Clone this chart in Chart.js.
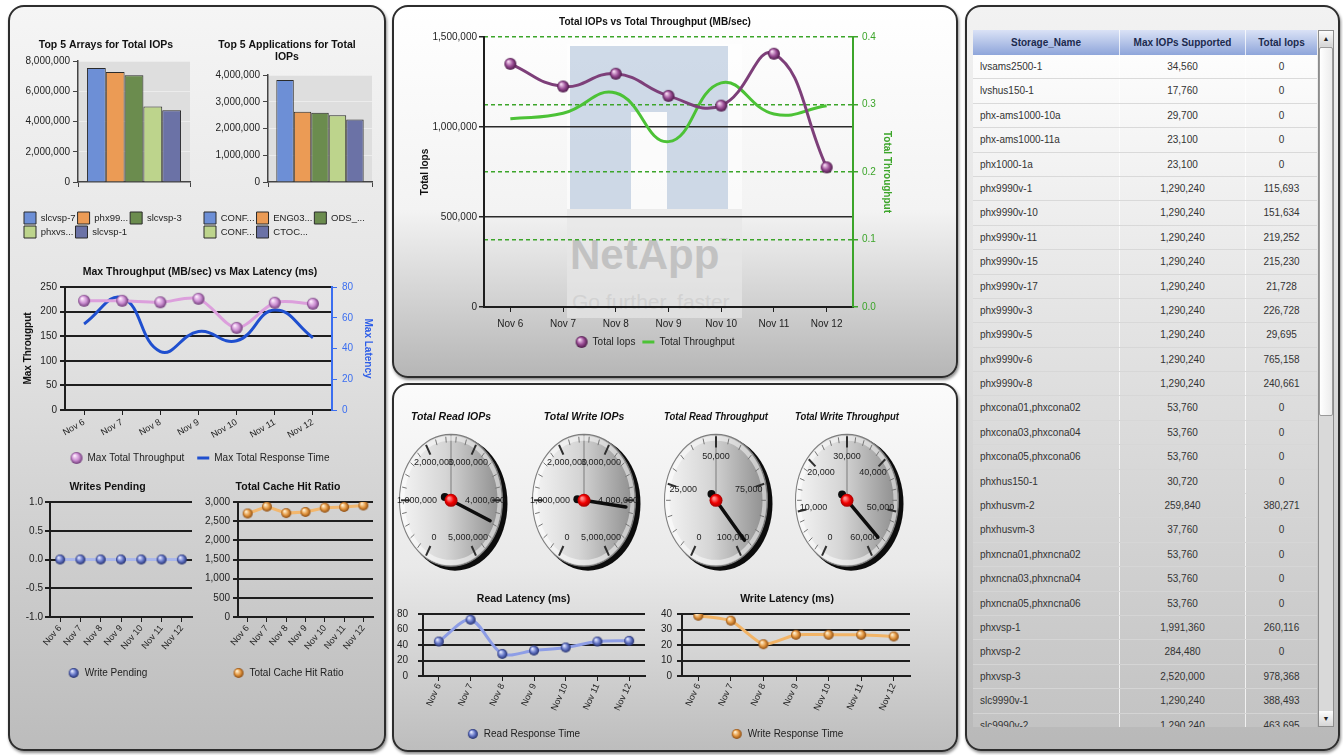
<!DOCTYPE html>
<html lang="en">
<head>
<meta charset="utf-8">
<title>Storage performance dashboard</title>
<script src="https://cdn.jsdelivr.net/npm/chart.js@4.4.1/dist/chart.umd.min.js"></script>
<style>
  body { margin: 0; width: 1343px; height: 755px; overflow: hidden; position: relative; background: #fff;
         font-family: 'Liberation Sans', Arial, sans-serif; }
  .panel { position: absolute; box-sizing: border-box; border: 2px solid #2d2d2d; border-radius: 16px;
           box-shadow: 1px 2px 3px rgba(0,0,0,.45); }
  canvas { position: absolute; z-index: 3; }
  .wm { position: absolute; z-index: 2; white-space: nowrap; }
  #grid { position: absolute; left: 973px; top: 30px; width: 344px; height: 697px; overflow: hidden; z-index: 3;
          font-size: 10px; color: #333; }
  #grid .hdr { display: flex; height: 25px; line-height: 25px; background: linear-gradient(#dae2f6, #8ea5da);
               font-weight: bold; color: #1c2a4e; text-align: center; }
  #rows { background: linear-gradient(#fdfdfd, #e6e6e6 35%, #c2c2c2); }
  .row { display: flex; height: 24.4px; line-height: 23.4px; box-sizing: border-box;
         border-bottom: 1px solid rgba(214,214,214,.9); }
  .c0 { width: 147px; padding-left: 7px; box-sizing: border-box; white-space: nowrap; overflow: hidden; }
  .c1 { width: 125px; text-align: center; }
  .c2 { flex: 1; text-align: center; }
  .c0, .c1 { border-right: 1px solid rgba(255,255,255,.75); }
  .hdr .c0 { padding-left: 0; text-align: center; }
  #sb { position: absolute; left: 1318px; top: 30px; width: 16px; height: 697px; box-sizing: border-box;
        border: 1px solid #8c8c8c; background: #d9d9d9; z-index: 3; }
  .sbBtn { position: absolute; left: 0; width: 14px; height: 15px; background: linear-gradient(#fdfdfd, #d6d6d6);
           font-size: 7px; line-height: 15px; text-align: center; color: #222; }
  #thumb { position: absolute; left: 0; top: 16px; width: 14px; height: 369px; box-sizing: border-box;
           border: 1px solid #9a9a9a; border-radius: 2px; background: linear-gradient(90deg, #fff, #ececec); }
</style>
</head>
<body>
<div class="panel" style="left:8px;top:5px;width:378px;height:746px;background:linear-gradient(#f5f5f5,#e2e2e2 45%,#bcbcbc)"></div>
<div class="panel" style="left:392px;top:5px;width:566px;height:373px;background:linear-gradient(#ffffff,#f3f3f3 55%,#b6b6b6)"></div>
<div class="panel" style="left:392px;top:383px;width:566px;height:369px;background:linear-gradient(#fbfbfb,#e9e9e9 50%,#bdbdbd)"></div>
<div class="panel" style="left:965px;top:5px;width:375px;height:746px;background:linear-gradient(#f2f2f2,#dedede 45%,#b8b8b8)"></div>

<!-- NetApp watermark behind the main chart -->
<div class="wm" style="left:567px;top:44px;width:175px;height:274px;background:rgba(255,255,255,.55)"></div>
<div class="wm" style="left:570px;top:46px;width:158px;height:66px;background:rgba(160,182,210,.5)"></div>
<div class="wm" style="left:570px;top:112px;width:61px;height:97px;background:rgba(160,182,210,.5)"></div>
<div class="wm" style="left:667px;top:112px;width:61px;height:97px;background:rgba(160,182,210,.5)"></div>
<div class="wm" style="left:567px;top:209px;width:175px;height:109px;background:rgba(205,205,205,.35)"></div>
<div class="wm" style="left:570px;top:234px;font:bold 42px/42px 'Liberation Sans',Arial,sans-serif;color:#c2c2c2">NetApp<span style="font-size:9px;vertical-align:top;line-height:14px">™</span></div>
<div class="wm" style="left:572px;top:291px;font:21px/21px 'Liberation Sans',Arial,sans-serif;color:#d2d2d2">Go further, faster</div>

<div id="grid"><div class="hdr"><div class="c0">Storage_Name</div><div class="c1">Max IOPs Supported</div><div class="c2">Total Iops</div></div><div id="rows"></div></div>
<div id="sb"><div class="sbBtn" style="top:0">▲</div><div id="thumb"></div><div class="sbBtn" style="bottom:0">▼</div></div>

<script>
// ── data ────────────────────────────────────────────────────────────────────
const days = ['Nov 6', 'Nov 7', 'Nov 8', 'Nov 9', 'Nov 10', 'Nov 11', 'Nov 12'];

const arrayNames = ['slcvsp-7', 'phx99...', 'slcvsp-3', 'phxvs...', 'slcvsp-1'];
const arrayIops = [7540000, 7270000, 7050000, 5000000, 4740000];
const appNames = ['CONF...', 'ENG03...', 'ODS_...', 'CONF...', 'CTOC...'];
const appIops = [3810000, 2630000, 2590000, 2500000, 2340000];

const maxThroughput = [222, 222, 219, 226, 167, 218, 216];
const maxLatency = [56, 73, 38, 51, 45, 65, 47];
const writesPending = [0, 0, 0, 0, 0, 0, 0];
const cacheHitRatio = [2700, 2880, 2710, 2740, 2850, 2870, 2910];

const totalIops = [1351000, 1225000, 1296000, 1173000, 1119000, 1407000, 776000];
const totalThroughput = [0.279, 0.287, 0.317, 0.245, 0.332, 0.286, 0.298];

const gaugeTitles = ['Total Read IOPs', 'Total Write IOPs', 'Total Read Throughput', 'Total Write Throughput'];
const gaugeMax = [5000000, 5000000, 100000, 60000];
const gaugeStep = [1000000, 1000000, 25000, 10000];
const gaugeValues = [4370000, 4120000, 95900, 56600];

const readLatency = [44.5, 72.6, 28.5, 32.9, 36.8, 44.5, 45.4];
const writeLatency = [38.9, 35.7, 20.5, 26.6, 26.6, 26.6, 25.5];

const storageNames = ['lvsams2500-1', 'lvshus150-1', 'phx-ams1000-10a', 'phx-ams1000-11a', 'phx1000-1a',
  'phx9990v-1', 'phx9990v-10', 'phx9990v-11', 'phx9990v-15', 'phx9990v-17', 'phx9990v-3', 'phx9990v-5',
  'phx9990v-6', 'phx9990v-8', 'phxcona01,phxcona02', 'phxcona03,phxcona04', 'phxcona05,phxcona06',
  'phxhus150-1', 'phxhusvm-2', 'phxhusvm-3', 'phxncna01,phxncna02', 'phxncna03,phxncna04',
  'phxncna05,phxncna06', 'phxvsp-1', 'phxvsp-2', 'phxvsp-3', 'slc9990v-1', 'slc9990v-2'];
const maxIopsSupported = [34560, 17760, 29700, 23100, 23100,
  1290240, 1290240, 1290240, 1290240, 1290240, 1290240, 1290240, 1290240, 1290240,
  53760, 53760, 53760, 30720, 259840, 37760, 53760, 53760, 53760,
  1991360, 284480, 2520000, 1290240, 1290240];
const storageIops = [0, 0, 0, 0, 0,
  115693, 151634, 219252, 215230, 21728, 226728, 29695, 765158, 240661,
  0, 0, 0, 0, 380271, 0, 0, 0, 0,
  260116, 0, 978368, 388493, 463695];

// ── table on the right ──────────────────────────────────────────────────────
const rowsEl = document.getElementById('rows');
storageNames.forEach((name, i) => {
  const row = document.createElement('div');
  row.className = 'row';
  [name, maxIopsSupported[i].toLocaleString('en-US'), storageIops[i].toLocaleString('en-US')].forEach((txt, j) => {
    const cell = document.createElement('div');
    cell.className = 'c' + j;
    cell.textContent = txt;
    row.appendChild(cell);
  });
  rowsEl.appendChild(row);
});

// ── Chart.js common setup ───────────────────────────────────────────────────
const FONT = "'Liberation Sans', Arial, Helvetica, sans-serif";
Chart.defaults.font.family = FONT;
Chart.defaults.font.size = 10;
Chart.defaults.color = '#222';
Chart.defaults.animation = false;
Chart.defaults.events = [];
Chart.defaults.plugins.tooltip.enabled = false;

// grey plot background for the two bar charts
Chart.register({
  id: 'plotBg',
  beforeDraw(chart, args, opts) {
    if (!opts.color) return;
    const { ctx, chartArea: a } = chart;
    ctx.save();
    ctx.fillStyle = opts.color;
    ctx.fillRect(a.left, a.top, a.width, a.height);
    ctx.restore();
  },
});

const fixW = (w) => (s) => { s.width = w; };
const fixH = (h) => (s) => { s.height = h; };

function place(id, x, y, w, h) {
  const c = document.createElement('canvas');
  c.id = id;
  c.width = w;
  c.height = h;
  c.style.left = x + 'px';
  c.style.top = y + 'px';
  document.body.appendChild(c);
  return c;
}

// nudge the layout padding so the plot area lands on the wanted page rectangle
function fitPlot(chart, x, y, t) {
  const p = chart.config.options.layout.padding;
  for (let i = 0; i < 2; i++) {
    const a = chart.chartArea;
    p.left += t[0] - x - a.left;
    p.top += t[1] - y - a.top;
    p.right += a.right - (t[2] - x);
    p.bottom += a.bottom - (t[3] - y);
    chart.update();
  }
}

function heading(text, size, pt, pb, extra) {
  return { display: true, text, color: '#111', font: Object.assign({ size, weight: 'bold' }, extra),
    padding: { top: pt, bottom: pb } };
}

// glossy ball markers
function sphere(r, hi, mid, lo) {
  const c = document.createElement('canvas');
  c.width = c.height = r * 2 + 2;
  const g = c.getContext('2d');
  const o = r + 1;
  const grad = g.createRadialGradient(o - r * 0.35, o - r * 0.4, r * 0.1, o, o, r);
  grad.addColorStop(0, hi);
  grad.addColorStop(0.55, mid);
  grad.addColorStop(1, lo);
  g.fillStyle = grad;
  g.beginPath();
  g.arc(o, o, r, 0, Math.PI * 2);
  g.fill();
  return c;
}
const purpleBall = sphere(6, '#f5d6f1', '#9a4d95', '#4a1846');
const pinkBall = sphere(6, '#fdeafd', '#cc8fd2', '#6f3a78');
const blueBall = sphere(5, '#e2e7ff', '#6475c6', '#222e6c');
const orangeBall = sphere(5, '#fff0d2', '#e3963f', '#8a4a10');

const barColours = ['#6d8fd6', '#eb9b55', '#6b8c4e', '#bdd48c', '#6b72a6'];

function categoryAxis(rot, h, size, pad) {
  return {
    offset: true,
    grid: { drawOnChartArea: false, color: '#1e1e1e', tickLength: 5 },
    border: { color: '#1e1e1e', width: 2 },
    ticks: { minRotation: rot, maxRotation: rot, autoSkip: false, font: { size }, padding: pad, color: '#222' },
    afterFit: fixH(h),
  };
}

function valueAxis(min, max, step, width, pad, fmt) {
  const ticks = { stepSize: step, padding: pad, color: '#222' };
  if (fmt) ticks.callback = fmt;
  return {
    min, max, ticks,
    grid: { color: '#1e1e1e', lineWidth: 2, tickLength: 5 },
    border: { color: '#1e1e1e', width: 2 },
    afterFit: fixW(width),
  };
}

// ── top five bar charts ─────────────────────────────────────────────────────
function topFive(id, box, plot, titleText, tpad, names, values, max, step) {
  const [x, y, w, h] = box;
  const chart = new Chart(place(id, x, y, w, h), {
    type: 'bar',
    data: {
      labels: [''],
      datasets: names.map((n, i) => ({ label: n, data: [values[i]], backgroundColor: barColours[i],
        borderColor: '#2b2b2b', borderWidth: 1 })),
    },
    options: {
      responsive: false,
      layout: { padding: { left: 0, top: 0, right: x + w - plot[2], bottom: 0 } },
      datasets: { bar: { categoryPercentage: 0.84, barPercentage: 1 } },
      plugins: {
        title: heading(titleText, 10.5, tpad[0], tpad[1]),
        legend: { position: 'bottom', align: 'start',
          labels: { boxWidth: 12, boxHeight: 12, padding: 2, color: '#222', font: { size: 9.5 } } },
        plotBg: { color: '#dedede' },
      },
      scales: {
        x: { grid: { drawOnChartArea: false, color: '#444', tickLength: 5 }, border: { color: '#444', width: 1.5 },
          afterFit: fixH(28) },
        y: { min: 0, max, ticks: { stepSize: step, padding: 3 },
          grid: { color: '#ececec', tickColor: '#444', tickLength: 5 }, border: { color: '#444', width: 1.5 },
          afterFit: fixW(plot[0] - x) },
      },
    },
  });
  fitPlot(chart, x, y, plot);
}

topFive('arrays', [22, 36, 176, 212], [78, 61, 190, 182], 'Top 5 Arrays for Total IOPs', [2.7, 9.7],
  arrayNames, arrayIops, 8000000, 2000000);
topFive('apps', [202, 36, 180, 212], [268, 75, 372, 182], ['Top 5 Applications for Total', 'IOPs'], [2.7, 11.1],
  appNames, appIops, 4000000, 1000000);

// ── small trend charts ──────────────────────────────────────────────────────
function trend(id, box, plot, spec) {
  const [x, y, w, h] = box;
  const chart = new Chart(place(id, x, y, w, h), {
    type: 'line',
    data: { labels: days, datasets: spec.datasets },
    options: {
      responsive: false,
      layout: { padding: { left: 0, top: 0, right: x + w - plot[2] - (spec.rightW || 0), bottom: 0 } },
      plugins: {
        title: heading(spec.title, spec.titleSize || 10.5, spec.tpad[0], spec.tpad[1]),
        legend: { position: 'bottom',
          labels: { usePointStyle: true, pointStyleWidth: 12, padding: spec.legendPad, color: '#222', font: { size: 10 } } },
      },
      scales: Object.assign({ x: spec.x }, spec.scales),
    },
  });
  fitPlot(chart, x, y, plot);
}

const oneDecimal = (v) => v.toFixed(1);

trend('thrLat', [15, 262, 370, 211], [65, 287, 332, 410], {
  title: 'Max Throughput (MB/sec) vs Max Latency (ms)', tpad: [3.7, 8.7], legendPad: 13, rightW: 53,
  x: categoryAxis(30, 30, 9, 2),
  datasets: [
    { label: 'Max Total Throughput', data: maxThroughput, yAxisID: 'y', borderColor: '#dc9fdc', borderWidth: 3,
      tension: 0.3, pointStyle: pinkBall, pointRadius: 6 },
    { label: 'Max Total Response Time', data: maxLatency, yAxisID: 'y2', borderColor: '#1f4fcf', borderWidth: 3,
      tension: 0.45, pointStyle: 'line', pointRadius: 0 },
  ],
  scales: {
    y: Object.assign(valueAxis(0, 250, 50, 50, 3), {
      title: { display: true, text: 'Max Througput', color: '#111', font: { weight: 'bold' }, padding: { top: 7, bottom: 0 } },
    }),
    y2: {
      position: 'right', min: 0, max: 80,
      ticks: { stepSize: 20, padding: 5, color: '#3b6ef0' },
      grid: { drawOnChartArea: false, color: '#3b6ef0', tickLength: 5 },
      border: { color: '#3b6ef0', width: 2 },
      title: { display: true, text: 'Max Latency', color: '#2d5ee8', font: { weight: 'bold' }, padding: { top: 11, bottom: 0 } },
      afterFit: fixW(53),
    },
  },
});

trend('pending', [20, 478, 180, 210], [50, 502, 193, 617], {
  title: 'Writes Pending', tpad: [2.7, 8.7], legendPad: 10,
  x: categoryAxis(50, 41, 9, 1),
  datasets: [{ label: 'Write Pending', data: writesPending, borderColor: '#aab7ea', borderWidth: 3,
    pointStyle: blueBall, pointRadius: 5 }],
  scales: { y: valueAxis(-1, 1, 0.5, 30, 2, oneDecimal) },
});

trend('cache', [203, 478, 180, 210], [238, 502, 373, 617], {
  title: 'Total Cache Hit Ratio', tpad: [2.7, 8.7], legendPad: 10,
  x: categoryAxis(50, 41, 9, 1),
  datasets: [{ label: 'Total Cache Hit Ratio', data: cacheHitRatio, borderColor: '#f2b76e', borderWidth: 3,
    pointStyle: orangeBall, pointRadius: 5 }],
  scales: { y: valueAxis(0, 3000, 500, 35, 3) },
});

trend('readLat', [393, 590, 260, 159], [423, 614, 648, 676], {
  title: 'Read Latency (ms)', tpad: [2.7, 8.7], legendPad: 10,
  x: categoryAxis(65, 43, 9, 1),
  datasets: [{ label: 'Read Response Time', data: readLatency, borderColor: '#8d9de6', borderWidth: 3,
    tension: 0.3, pointStyle: blueBall, pointRadius: 5 }],
  scales: { y: valueAxis(0, 80, 20, 30, 10) },
});

trend('writeLat', [658, 590, 260, 159], [682, 614, 912, 676], {
  title: 'Write Latency (ms)', tpad: [2.7, 8.7], legendPad: 10,
  x: categoryAxis(65, 43, 9, 1),
  datasets: [{ label: 'Write Response Time', data: writeLatency, borderColor: '#f2b466', borderWidth: 3,
    tension: 0.2, pointStyle: orangeBall, pointRadius: 5 }],
  scales: { y: valueAxis(0, 40, 10, 24, 5) },
});

// ── main chart: Total IOPs vs Total Throughput ──────────────────────────────
const GREEN = '#3ca52a';
trend('main', [410, 8, 490, 349], [484, 37, 853, 307], {
  title: 'Total IOPs vs Total Throughput (MB/sec)', titleSize: 10, tpad: [8, 9], legendPad: 7, rightW: 47,
  x: categoryAxis(0, 23, 10, 6),
  datasets: [
    { label: 'Total Iops', data: totalIops, yAxisID: 'y', borderColor: '#7d3f79', borderWidth: 3, tension: 0.45,
      pointStyle: purpleBall, pointRadius: 6 },
    { label: 'Total Throughput', data: totalThroughput, yAxisID: 'y2', borderColor: '#4cc236', borderWidth: 3,
      tension: 0.45, pointStyle: 'line', pointRadius: 0 },
  ],
  scales: {
    y: {
      min: 0, max: 1500000,
      ticks: { stepSize: 500000, padding: 2, color: '#222' },
      grid: { color: (c) => (c.tick.value > 0 && c.tick.value < 1500000 ? '#2a2a2a' : 'rgba(0,0,0,0)'),
        lineWidth: 1.5, tickColor: '#222', tickLength: 5 },
      border: { color: '#1e1e1e', width: 2 },
      title: { display: true, text: 'Total Iops', color: '#111', font: { weight: 'bold' }, padding: { top: 9, bottom: 0 } },
      afterFit: fixW(74),
    },
    y2: {
      position: 'right', min: 0, max: 0.4,
      ticks: { stepSize: 0.1, padding: 4, color: GREEN, callback: oneDecimal },
      grid: { color: (c) => (c.tick.value > 0 ? GREEN : 'rgba(0,0,0,0)'), lineWidth: 1.5, tickColor: GREEN, tickLength: 5 },
      border: { color: GREEN, width: 2, dash: [4, 3] },
      title: { display: true, text: 'Total Throughput', color: GREEN, font: { weight: 'bold' }, padding: { top: 7, bottom: 0 } },
      afterFit: fixW(47),
    },
  },
});

// ── dial gauges ─────────────────────────────────────────────────────────────
const DIAL_STRETCH = 1.28;   // the dials are drawn taller than wide, as in the original
const dialCentres = [451, 584, 716, 847];

const dialFace = (c) => {
  const a = c.chart.chartArea;
  if (!a) return '#cccccc';
  const g = c.chart.ctx.createLinearGradient(a.left, 0, a.right, 0);
  g.addColorStop(0, '#f5f5f5');
  g.addColorStop(0.45, '#d5d5d5');
  g.addColorStop(1, '#8b8b8b');
  return g;
};

const dial = {
  id: 'dial',
  beforeDatasetsDraw(chart) {
    const arc = chart.getDatasetMeta(0).data[0];
    const ctx = chart.ctx;
    ctx.save();
    ctx.translate(arc.x, arc.y);
    ctx.scale(1, DIAL_STRETCH);
    ctx.translate(-arc.x, -arc.y);
    ctx.fillStyle = '#0c0c0c';
    ctx.beginPath();
    ctx.arc(arc.x + 4, arc.y + 2.5, arc.outerRadius + 1, 0, Math.PI * 2);
    ctx.fill();
  },
  afterDatasetsDraw(chart, args, o) {
    const ctx = chart.ctx;
    const arc = chart.getDatasetMeta(0).data[0];
    const R = arc.outerRadius;
    ctx.strokeStyle = 'rgba(255,255,255,0.5)';
    ctx.lineWidth = 4;
    ctx.beginPath();
    ctx.arc(arc.x, arc.y, R - 3, 0, Math.PI * 2);
    ctx.stroke();
    ctx.restore();

    const ang = (v) => (-150 + 300 * v / o.max) * Math.PI / 180;
    const at = (a, f) => [arc.x + Math.sin(a) * R * f, arc.y - Math.cos(a) * R * f * DIAL_STRETCH];

    ctx.save();
    const minor = o.step / 5;
    for (let k = 0; k * minor <= o.max + 1e-6; k++) {
      const major = k % 5 === 0;
      const a = ang(k * minor);
      const [x1, y1] = at(a, major ? 0.8 : 0.88);
      const [x2, y2] = at(a, 0.97);
      ctx.strokeStyle = major ? '#2e2e2e' : '#777';
      ctx.lineWidth = major ? 2 : 1;
      ctx.beginPath();
      ctx.moveTo(x1, y1);
      ctx.lineTo(x2, y2);
      ctx.stroke();
    }
    ctx.font = '9px ' + FONT;
    ctx.fillStyle = '#1e1e1e';
    ctx.textAlign = 'center';
    ctx.textBaseline = 'middle';
    for (let v = 0; v <= o.max + 1e-6; v += o.step) {
      const [x, y] = at(ang(v), 0.66);
      ctx.fillText(v.toLocaleString('en-US'), x, y);
    }

    // needle, its back end and the red hub
    const a = ang(o.value);
    const [tx, ty] = at(a, 0.82);
    const [bx, by] = at(a + Math.PI, 0.13);
    ctx.strokeStyle = '#0d0d0d';
    ctx.lineWidth = 3.5;
    ctx.lineCap = 'round';
    ctx.beginPath();
    ctx.moveTo(bx, by);
    ctx.lineTo(tx, ty);
    ctx.stroke();
    ctx.fillStyle = '#0d0d0d';
    ctx.beginPath();
    ctx.arc(bx, by, 4, 0, Math.PI * 2);
    ctx.fill();
    const hub = ctx.createRadialGradient(arc.x - 2, arc.y - 2, 1, arc.x, arc.y, 7);
    hub.addColorStop(0, '#ff8a8a');
    hub.addColorStop(0.5, '#f00000');
    hub.addColorStop(1, '#9a0000');
    ctx.fillStyle = hub;
    ctx.beginPath();
    ctx.arc(arc.x, arc.y, 6.5, 0, Math.PI * 2);
    ctx.fill();
    ctx.restore();
  },
};

gaugeTitles.forEach((t, i) => {
  new Chart(place('dial' + i, dialCentres[i] - 65, 408, 130, 180), {
    type: 'doughnut',
    data: { labels: [t], datasets: [{ data: [gaugeMax[i]], backgroundColor: dialFace, borderColor: '#7d7d7d', borderWidth: 1 }] },
    options: {
      responsive: false,
      cutout: 0,
      layout: { padding: { left: 13, right: 13, top: 0, bottom: 11 } },
      plugins: {
        title: heading(t, 10.5, 3, 0, { style: 'italic' }),
        legend: { display: false },
        dial: { max: gaugeMax[i], step: gaugeStep[i], value: gaugeValues[i] },
      },
    },
    plugins: [dial],
  });
});
</script>
</body>
</html>
